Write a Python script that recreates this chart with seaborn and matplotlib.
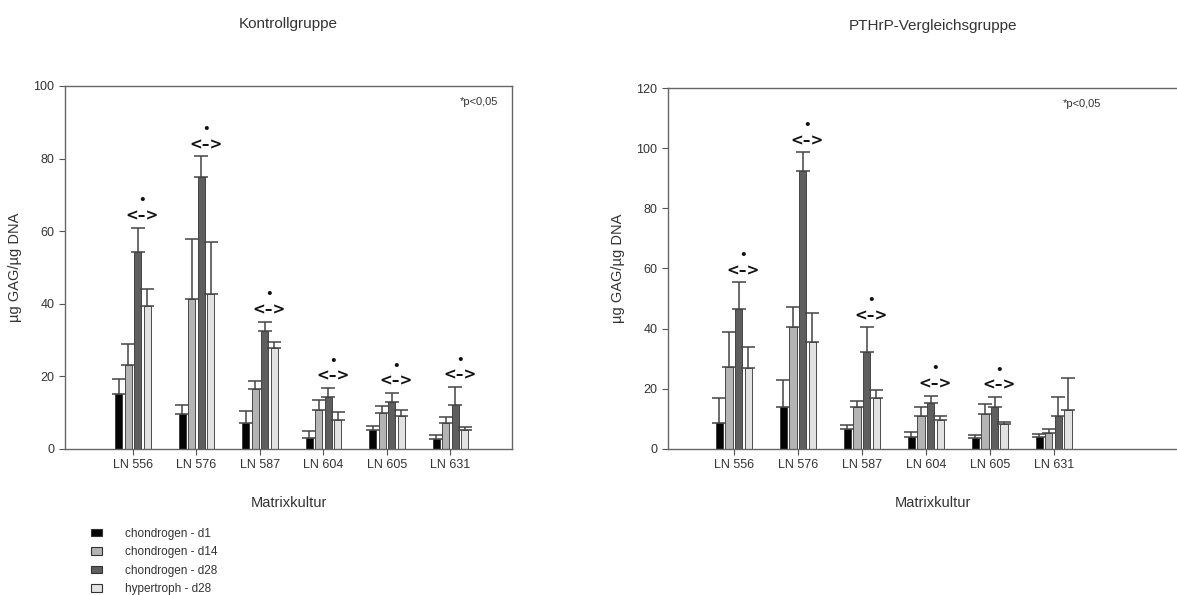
import matplotlib
matplotlib.use("Agg")
import matplotlib.pyplot as plt
import matplotlib.transforms as mtransforms
import seaborn as sns
import pandas as pd
from matplotlib.patches import Patch

sns.set_style("ticks")
plt.rcParams['font.family'] = ['Liberation Sans', 'DejaVu Sans']

# data
lines = ["LN 556", "LN 576", "LN 587", "LN 604", "LN 605", "LN 631"]
groups = ["chondrogen - d1", "chondrogen - d14", "chondrogen - d28", "hypertroph - d28"]
colors = ["#050505", "#b4b4b4", "#5e5e5e", "#e2e2e2"]

# Kontrollgruppe: mean per group, upper error
ctrl_d1 = [15.1, 9.7, 7.2, 3.0, 5.1, 2.8]
ctrl_d14 = [23.1, 41.4, 16.5, 10.8, 9.9, 7.2]
ctrl_d28 = [54.2, 75.0, 32.4, 14.3, 12.9, 12.1]
ctrl_hyp = [39.5, 42.6, 27.7, 8.1, 9.2, 5.1]
ctrl_d1_err = [4.3, 2.3, 3.2, 2.0, 1.1, 1.1]
ctrl_d14_err = [5.9, 16.4, 2.1, 2.8, 2.0, 1.6]
ctrl_d28_err = [6.8, 5.6, 2.7, 2.5, 2.5, 4.9]
ctrl_hyp_err = [4.7, 14.3, 1.7, 2.0, 1.6, 0.9]
ctrl_sig = [True, True, True, True, True, True]

# PTHrP-Vergleichsgruppe
pth_d1 = [8.6, 13.9, 6.6, 3.9, 3.7, 3.9]
pth_d14 = [27.4, 40.5, 13.9, 11.1, 11.7, 5.3]
pth_d28 = [46.5, 92.4, 32.1, 15.3, 13.9, 10.8]
pth_hyp = [26.9, 35.6, 16.9, 9.7, 8.4, 13.1]
pth_d1_err = [8.5, 9.1, 1.5, 1.6, 0.8, 1.2]
pth_d14_err = [11.6, 6.6, 1.9, 2.8, 3.1, 1.4]
pth_d28_err = [8.9, 6.2, 8.3, 2.4, 3.4, 6.5]
pth_hyp_err = [6.9, 9.5, 2.6, 1.1, 0.7, 10.5]
pth_sig = [True, True, True, True, True, False]


def make_df(vals, errs):
    rows = []
    for g, v, e in zip(groups, vals, errs):
        for ln, m, s in zip(lines, v, e):
            rows.append({"line": ln, "group": g, "value": m, "err": s})
    return pd.DataFrame(rows)


def draw(ax, df, sig, ymax, ystep, title, xlim):
    sns.barplot(data=df, x="line", y="value", hue="group", hue_order=groups,
                order=lines, palette=colors, width=0.6, gap=0.25,
                errorbar=None, edgecolor="#333333", linewidth=0.6,
                legend=False, ax=ax)
    # one-sided error bars on top of each bar
    bars = [p for p in ax.patches if p.get_height() > 0]
    tops = {}
    for i, p in enumerate(bars):
        gi, li = divmod(i, len(lines))
        row = df[(df.group == groups[gi]) & (df.line == lines[li])].iloc[0]
        xc = p.get_x() + p.get_width() / 2
        ax.errorbar(xc, row.value, yerr=[[0], [row.err]], fmt="none",
                    ecolor="#444444", elinewidth=1.1, capsize=5, capthick=1.1)
        tops[(gi, li)] = (xc, row.value + row.err)
    # significance marks between chondrogen d28 and hypertroph d28
    for li, s in enumerate(sig):
        if not s:
            continue
        x1, t1 = tops[(2, li)]
        x2, t2 = tops[(3, li)]
        xm = (x1 + x2) / 2
        y = max(t1, t2) + ymax * 0.012
        ax.annotate("<\u2013>", (xm, y), ha="center", va="bottom", fontsize=11,
                    fontweight="bold", color="#111111", family="DejaVu Sans")
        ax.annotate("\u2022", (xm, y), xytext=(0, 11.5), textcoords="offset points",
                    ha="center", va="bottom", fontsize=8.5, fontweight="bold",
                    color="#111111", family="DejaVu Sans")
    ax.set_ylim(0, ymax)
    ax.set_yticks(range(0, ymax + 1, ystep))
    ax.set_xlim(*xlim)
    ax.set_title(title, fontsize=11, color="#333333", pad=42)
    ax.set_xlabel("Matrixkultur", fontsize=10.5, color="#333333", labelpad=18)
    ax.set_ylabel("\u00b5g GAG/\u00b5g DNA", fontsize=10.5, color="#333333", labelpad=8)
    ax.tick_params(labelsize=9, colors="#555555", labelcolor="#333333", length=4)
    for sp in ax.spines.values():
        sp.set_color("#666666")
        sp.set_linewidth(1.0)
        sp.set_visible(True)
    trans = mtransforms.blended_transform_factory(ax.transData, ax.transAxes)
    ax.text(5.45, 0.955, "*p<0,05", transform=trans, ha="center",
            va="center", fontsize=8, color="#333333")


fig = plt.figure(figsize=(11.77, 5.95), dpi=100)
ax1 = fig.add_axes([0.0552, 0.2454, 0.3798, 0.6101])
ax2 = fig.add_axes([0.5675, 0.2454, 0.45, 0.6067])

draw(ax1, make_df([ctrl_d1, ctrl_d14, ctrl_d28, ctrl_hyp],
                  [ctrl_d1_err, ctrl_d14_err, ctrl_d28_err, ctrl_hyp_err]),
     ctrl_sig, 100, 20, "Kontrollgruppe", (-1.07, 5.97))
draw(ax2, make_df([pth_d1, pth_d14, pth_d28, pth_hyp],
                  [pth_d1_err, pth_d14_err, pth_d28_err, pth_hyp_err]),
     pth_sig, 120, 20, "PTHrP-Vergleichsgruppe", (-1.03, 7.25))

handles = [Patch(facecolor=c, edgecolor="#333333", linewidth=0.8) for c in colors]
fig.legend(handles, groups, loc="lower left", bbox_to_anchor=(0.068, -0.018),
           frameon=False, fontsize=8.5, handlelength=1.0, handleheight=0.6,
           handletextpad=1.9, labelspacing=0.55, labelcolor="#333333")

fig.savefig("out.png", dpi=100)
